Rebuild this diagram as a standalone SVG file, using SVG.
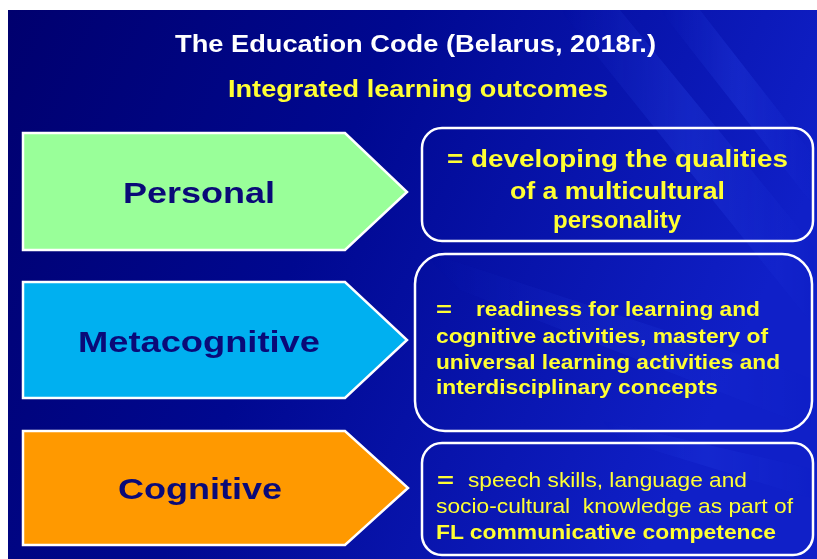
<svg xmlns="http://www.w3.org/2000/svg" width="817" height="559" viewBox="0 0 817 559">
  <defs>
    <linearGradient id="bg" x1="0" y1="0" x2="1" y2="0.3">
      <stop offset="0" stop-color="#00006e"/>
      <stop offset="0.45" stop-color="#000890"/>
      <stop offset="1" stop-color="#1020c8"/>
    </linearGradient>
    <linearGradient id="streak" x1="0" y1="0" x2="1" y2="0">
      <stop offset="0" stop-color="#3a5cff" stop-opacity="0"/>
      <stop offset="0.5" stop-color="#3a5cff" stop-opacity="0.3"/>
      <stop offset="1" stop-color="#3a5cff" stop-opacity="0"/>
    </linearGradient>
    <style>
      .sans { font-family: "Liberation Sans", Arial, sans-serif; }
      .title { font-weight: bold; font-size: 23px; fill: #ffffff; }
      .sub { font-weight: bold; font-size: 23px; fill: #ffff33; }
      .arrow { stroke: #ffffff; stroke-width: 2.5; }
      .label { font-weight: bold; font-size: 30px; fill: #0a0a78; }
      .box { fill: none; stroke: #ffffff; stroke-width: 2.5; }
      .txt { font-size: 21px; fill: #ffff33; }
      .big { font-size: 24px; }
      .b { font-weight: bold; }
    </style>
  </defs>

  <!-- slide background with light margin -->
  <rect x="0" y="0" width="817" height="559" fill="#ffffff"/>
  <rect x="8" y="10" width="809" height="549" fill="url(#bg)"/>
  <g opacity="0.7">
    <polygon points="560,10 620,10 817,250 817,330" fill="url(#streak)"/>
    <polygon points="660,10 700,10 817,160 817,210" fill="url(#streak)"/>
    <polygon points="420,250 817,380 817,430 460,290" fill="url(#streak)" opacity="0.6"/>
    <polygon points="600,420 817,470 817,500 620,440" fill="url(#streak)" opacity="0.6"/>
  </g>

  <!-- heading -->
  <text class="sans title" x="175" y="52" textLength="481" lengthAdjust="spacingAndGlyphs">The Education Code (Belarus, 2018г.)</text>
  <text class="sans sub" x="228" y="97" textLength="380" lengthAdjust="spacingAndGlyphs">Integrated learning outcomes</text>

  <!-- category arrows -->
  <g id="node-personal">
    <polygon class="arrow" points="23,133 345,133 407,192 345,250 23,250" fill="#99ff99"/>
    <text class="sans label" x="123" y="203" textLength="152" lengthAdjust="spacingAndGlyphs">Personal</text>
  </g>
  <g id="node-metacognitive">
    <polygon class="arrow" points="23,282 345,282 407,340 345,398 23,398" fill="#00b0f0"/>
    <text class="sans label" x="78" y="352" textLength="242" lengthAdjust="spacingAndGlyphs">Metacognitive</text>
  </g>
  <g id="node-cognitive">
    <polygon class="arrow" points="23,431 345,431 408,488 345,545 23,545" fill="#ff9900"/>
    <text class="sans label" x="118" y="499" textLength="164" lengthAdjust="spacingAndGlyphs">Cognitive</text>
  </g>

  <!-- outcome descriptions -->
  <g id="node-personal-outcome">
    <rect class="box" x="422" y="128" width="391" height="113" rx="20"/>
    <text class="sans txt big b" x="447" y="167" textLength="341" lengthAdjust="spacingAndGlyphs">= developing the qualities</text>
    <text class="sans txt big b" x="510" y="199" textLength="215" lengthAdjust="spacingAndGlyphs">of a multicultural</text>
    <text class="sans txt big b" x="553" y="228" textLength="128" lengthAdjust="spacingAndGlyphs">personality</text>
  </g>
  <g id="node-metacognitive-outcome">
    <rect class="box" x="415" y="254" width="397" height="177" rx="30"/>
    <text class="sans txt b" x="436" y="316" textLength="16" lengthAdjust="spacingAndGlyphs">=</text>
    <text class="sans txt b" x="476" y="316" textLength="284" lengthAdjust="spacingAndGlyphs">readiness for learning and</text>
    <text class="sans txt b" x="436" y="343" textLength="332" lengthAdjust="spacingAndGlyphs">cognitive activities, mastery of</text>
    <text class="sans txt b" x="436" y="369" textLength="344" lengthAdjust="spacingAndGlyphs">universal learning activities and</text>
    <text class="sans txt b" x="436" y="394" textLength="282" lengthAdjust="spacingAndGlyphs">interdisciplinary concepts</text>
  </g>
  <g id="node-cognitive-outcome">
    <rect class="box" x="422" y="443" width="391" height="112" rx="20"/>
    <text class="sans txt b" x="437" y="487" textLength="17" lengthAdjust="spacingAndGlyphs">=</text>
    <text class="sans txt" x="468" y="487" textLength="279" lengthAdjust="spacingAndGlyphs">speech skills, language and</text>
    <text class="sans txt" x="436" y="513" textLength="357" lengthAdjust="spacingAndGlyphs" xml:space="preserve">socio-cultural  knowledge as part of</text>
    <text class="sans txt b" x="436" y="539" textLength="340" lengthAdjust="spacingAndGlyphs">FL communicative competence</text>
  </g>

  <g id="connectors"/>
</svg>
